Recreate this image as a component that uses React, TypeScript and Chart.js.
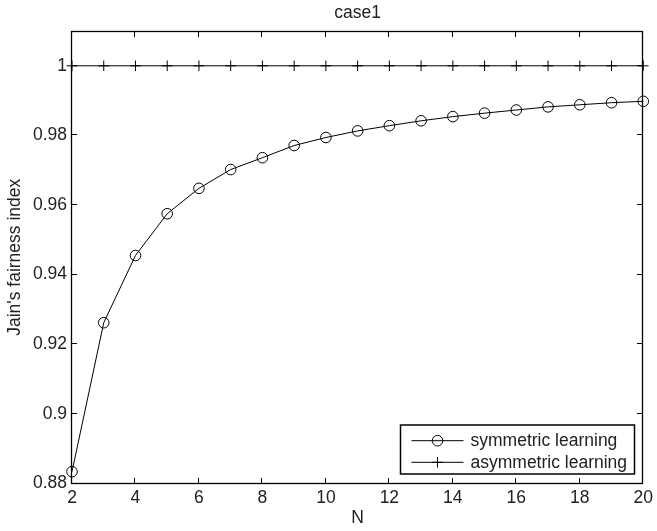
import { useEffect, useRef } from "react";
import { Chart, registerables } from "chart.js";

Chart.register(...registerables);

// Number of users
const nValues = [2, 3, 4, 5, 6, 7, 8, 9, 10, 11, 12, 13, 14, 15, 16, 17, 18, 19, 20];
// Jain's fairness index under each learning scheme
const symmetricLearning = [
  0.8834, 0.9262, 0.9455, 0.9575, 0.9648, 0.9702, 0.9736, 0.9771, 0.9794, 0.9813,
  0.9828, 0.9842, 0.9854, 0.9864, 0.9873, 0.9882, 0.9888, 0.9894, 0.9898,
];
const asymmetricLearning = [
  1, 1, 1, 1, 1, 1, 1, 1, 1, 1, 1, 1, 1, 1, 1, 1, 1, 1, 1,
];
const seriesLabels = ["symmetric learning", "asymmetric learning"];
const xTicks = [2, 4, 6, 8, 10, 12, 14, 16, 18, 20];
const yTicks = [0.88, 0.9, 0.92, 0.94, 0.96, 0.98, 1];
const chartTitle = "case1";
const xTitle = "N";
const yTitle = "Jain's fairness index";

const FONT = "'Liberation Sans', Arial, Helvetica, sans-serif";
const FONT_SIZE = 17.5;
const TEXT = "#222";

const framePlugin = {
  id: "matlabFrame",
  afterDraw(chart: any) {
    const { ctx, chartArea: a, scales } = chart;
    const xs = scales.x;
    const ys = scales.y;
    const left = Math.round(a.left) - 0.5;
    const right = Math.round(a.right) - 0.5;
    const top = Math.round(a.top) + 0.5;
    const bottom = Math.round(a.bottom) - 0.5;
    ctx.save();
    ctx.strokeStyle = "#000";
    ctx.lineWidth = 1.3;
    ctx.strokeRect(left, top, right - left, bottom - top);

    // inward tick marks on all four sides
    const len = 5.5;
    ctx.lineWidth = 1;
    ctx.beginPath();
    for (const t of xTicks) {
      const px = Math.round(xs.getPixelForValue(t)) - 0.5;
      ctx.moveTo(px, bottom);
      ctx.lineTo(px, bottom - len);
      ctx.moveTo(px, top);
      ctx.lineTo(px, top + len);
    }
    for (const t of yTicks) {
      const py = Math.round(ys.getPixelForValue(t)) - 0.5;
      ctx.moveTo(left, py);
      ctx.lineTo(left + len, py);
      ctx.moveTo(right, py);
      ctx.lineTo(right - len, py);
    }
    ctx.stroke();

    // title
    ctx.fillStyle = TEXT;
    ctx.font = `${FONT_SIZE}px ${FONT}`;
    ctx.textAlign = "center";
    ctx.textBaseline = "middle";
    ctx.fillText(chartTitle, (a.left + a.right) / 2, 13);

    // legend box in the lower right corner
    const boxW = 234;
    const boxH = 49;
    const bx = right - 8 - boxW;
    const by = bottom - 9.5 - boxH;
    ctx.fillStyle = "#fff";
    ctx.fillRect(bx, by, boxW, boxH);
    ctx.lineWidth = 1.5;
    ctx.strokeStyle = "#000";
    ctx.strokeRect(bx, by, boxW, boxH);

    const rowH = 21.6;
    chart.data.datasets.forEach((ds: any, i: number) => {
      const cy = by + 15.7 + i * rowH;
      const x0 = bx + 11;
      const x1 = bx + 63;
      const cx = (x0 + x1) / 2;
      ctx.lineWidth = 1;
      ctx.strokeStyle = "#000";
      ctx.beginPath();
      ctx.moveTo(x0, cy);
      ctx.lineTo(x1, cy);
      ctx.stroke();
      const r = ds.pointRadius;
      ctx.beginPath();
      if (ds.pointStyle === "circle") {
        ctx.arc(cx, cy, r, 0, Math.PI * 2);
      } else {
        ctx.moveTo(cx, cy - r);
        ctx.lineTo(cx, cy + r);
        ctx.moveTo(cx - r, cy);
        ctx.lineTo(cx + r, cy);
      }
      ctx.stroke();
      ctx.fillStyle = TEXT;
      ctx.textAlign = "left";
      ctx.textBaseline = "middle";
      ctx.fillText(ds.label, bx + 70, cy + 0.5);
    });
    ctx.restore();
  },
};

export default function App() {
  const canvasRef = useRef<HTMLCanvasElement | null>(null);

  useEffect(() => {
    const canvas = canvasRef.current;
    if (!canvas) return;
    const font = { family: FONT, size: FONT_SIZE };
    const chart = new Chart(canvas, {
      type: "line",
      data: {
        datasets: [
          {
            label: seriesLabels[0],
            data: nValues.map((n, i) => ({ x: n, y: symmetricLearning[i] })),
            borderColor: "#000",
            borderWidth: 1,
            pointStyle: "circle",
            pointRadius: 5.3,
            pointBorderWidth: 1,
            pointBorderColor: "#000",
            pointBackgroundColor: "rgba(0,0,0,0)",
            tension: 0,
            clip: false,
          },
          {
            label: seriesLabels[1],
            data: nValues.map((n, i) => ({ x: n, y: asymmetricLearning[i] })),
            borderColor: "#000",
            borderWidth: 1,
            pointStyle: "cross",
            pointRadius: 5.3,
            pointBorderWidth: 1,
            pointBorderColor: "#000",
            pointBackgroundColor: "rgba(0,0,0,0)",
            tension: 0,
            clip: false,
          },
        ] as any,
      },
      options: {
        responsive: false,
        animation: false,
        events: [],
        layout: { padding: { top: 31, right: 11, left: 0, bottom: 0 } },
        plugins: {
          legend: { display: false },
          title: { display: false },
          tooltip: { enabled: false },
        },
        scales: {
          x: {
            type: "linear",
            min: 2,
            max: 20,
            grid: { display: false, drawTicks: false },
            border: { display: false },
            afterBuildTicks: (s: any) => {
              s.ticks = xTicks.map((v) => ({ value: v }));
            },
            afterFit: (s: any) => {
              s.height = 47.5;
            },
            ticks: {
              font,
              color: TEXT,
              padding: 4,
              maxRotation: 0,
              autoSkip: false,
              callback: (v: any) => String(v),
            },
            title: {
              display: true,
              text: xTitle,
              font,
              color: TEXT,
              padding: { top: 0, bottom: 2 },
            },
          },
          y: {
            type: "linear",
            min: 0.88,
            max: 1.01,
            grid: { display: false, drawTicks: false },
            border: { display: false },
            afterBuildTicks: (s: any) => {
              s.ticks = yTicks.map((v) => ({ value: v }));
            },
            afterFit: (s: any) => {
              s.width = 72;
            },
            ticks: {
              font,
              color: TEXT,
              padding: 5,
              autoSkip: false,
              callback: (v: any) => String(Math.round(Number(v) * 100) / 100),
            },
            title: {
              display: true,
              text: yTitle,
              font,
              color: TEXT,
              padding: { top: 5, bottom: 0 },
            },
          },
        },
      },
      plugins: [framePlugin],
    });
    return () => chart.destroy();
  }, []);

  return (
    <div style={{ position: "fixed", left: 0, top: 0, width: 657, height: 531, background: "#fff" }}>
      <canvas ref={canvasRef} width={657} height={531} />
    </div>
  );
}
